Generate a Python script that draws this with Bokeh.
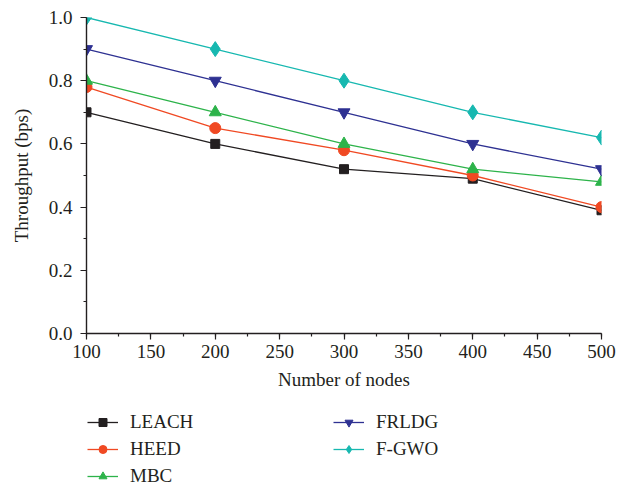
from bokeh.plotting import figure
from bokeh.layouts import column
from bokeh.models import (Range1d, SingleIntervalTicker, Legend, LegendItem,
                          PrintfTickFormatter)
from bokeh.embed import file_html
from bokeh.resources import INLINE

nodes = [100, 200, 300, 400, 500]
leach = [0.70, 0.60, 0.52, 0.49, 0.39]
heed = [0.78, 0.65, 0.58, 0.50, 0.40]
mbc = [0.80, 0.70, 0.60, 0.52, 0.48]
frldg = [0.90, 0.80, 0.70, 0.60, 0.52]
fgwo = [1.00, 0.90, 0.80, 0.70, 0.62]

FONT = "Liberation Serif"
TXT = "#231f20"

p = figure(width=632, height=400, output_backend="svg", toolbar_location=None,
           x_range=Range1d(100, 500), y_range=Range1d(0, 1.0),
           min_border_left=86, min_border_right=31, min_border_top=17,
           min_border_bottom=67, x_axis_label="Number of nodes",
           y_axis_label="Throughput (bps)")
p.outline_line_color = None
p.grid.visible = False

p.xaxis.ticker = SingleIntervalTicker(interval=50, num_minor_ticks=2)
p.yaxis.ticker = SingleIntervalTicker(interval=0.2, num_minor_ticks=2)
p.yaxis.formatter = PrintfTickFormatter(format="%.1f")
for ax in (p.xaxis, p.yaxis):
    ax.axis_line_color = TXT
    ax.axis_line_width = 1.4
    ax.major_tick_line_color = TXT
    ax.minor_tick_line_color = TXT
    ax.major_tick_line_width = 1.2
    ax.minor_tick_line_width = 1.2
    ax.major_tick_in = 0
    ax.major_tick_out = 6
    ax.minor_tick_in = 0
    ax.minor_tick_out = 3
    ax.major_label_text_font = FONT
    ax.major_label_text_font_size = "19px"
    ax.major_label_text_color = TXT
    ax.axis_label_text_font = FONT
    ax.axis_label_text_font_size = "19px"
    ax.axis_label_text_font_style = "normal"
    ax.axis_label_text_color = TXT
p.xaxis.major_label_standoff = 5
p.xaxis.axis_label_standoff = 8
p.yaxis.major_label_standoff = 8
p.yaxis.axis_label_standoff = 14

series = [
    ("LEACH", leach, "#231f20", "square", 9),
    ("HEED", heed, "#f04923", "circle", 11),
    ("MBC", mbc, "#2db34a", "triangle", 12),
    ("FRLDG", frldg, "#2e3192", "inverted_triangle", 12),
    ("F-GWO", fgwo, "#17b8b0", "diamond", 15),
]

# legend panel below the chart (its data lies outside its ranges, so only
# the legend swatches show)
q = figure(width=632, height=87, output_backend="svg", toolbar_location=None,
           x_range=Range1d(0, 1), y_range=Range1d(0, 1),
           min_border=0)
q.axis.visible = False
q.grid.visible = False
q.outline_line_color = None

items = []
for name, vals, col, mk, sz in series:
    p.line(nodes, vals, line_color=col, line_width=1.3)
    p.scatter(nodes, vals, marker=mk, size=sz, fill_color=col, line_color=col)
    lr = q.line(nodes, vals, line_color=col, line_width=1.3)
    sr = q.scatter(nodes, vals, marker=mk, size=sz * 0.75, fill_color=col,
                   line_color=col)
    items.append(LegendItem(label=name, renderers=[lr, sr]))

def make_legend(its, loc):
    return Legend(items=its, location=loc, orientation="vertical",
                  padding=0, margin=0, spacing=5, glyph_width=31,
                  glyph_height=20, label_height=20, label_standoff=12,
                  label_text_font=FONT, label_text_font_size="19px",
                  label_text_color=TXT, border_line_color=None,
                  background_fill_alpha=0)

q.add_layout(make_legend(items[:3], (1, 0)), "center")
q.add_layout(make_legend(items[3:], (247, 27)), "center")

layout = column(p, q, spacing=0)
open("out.html", "w").write(file_html(layout, INLINE))
